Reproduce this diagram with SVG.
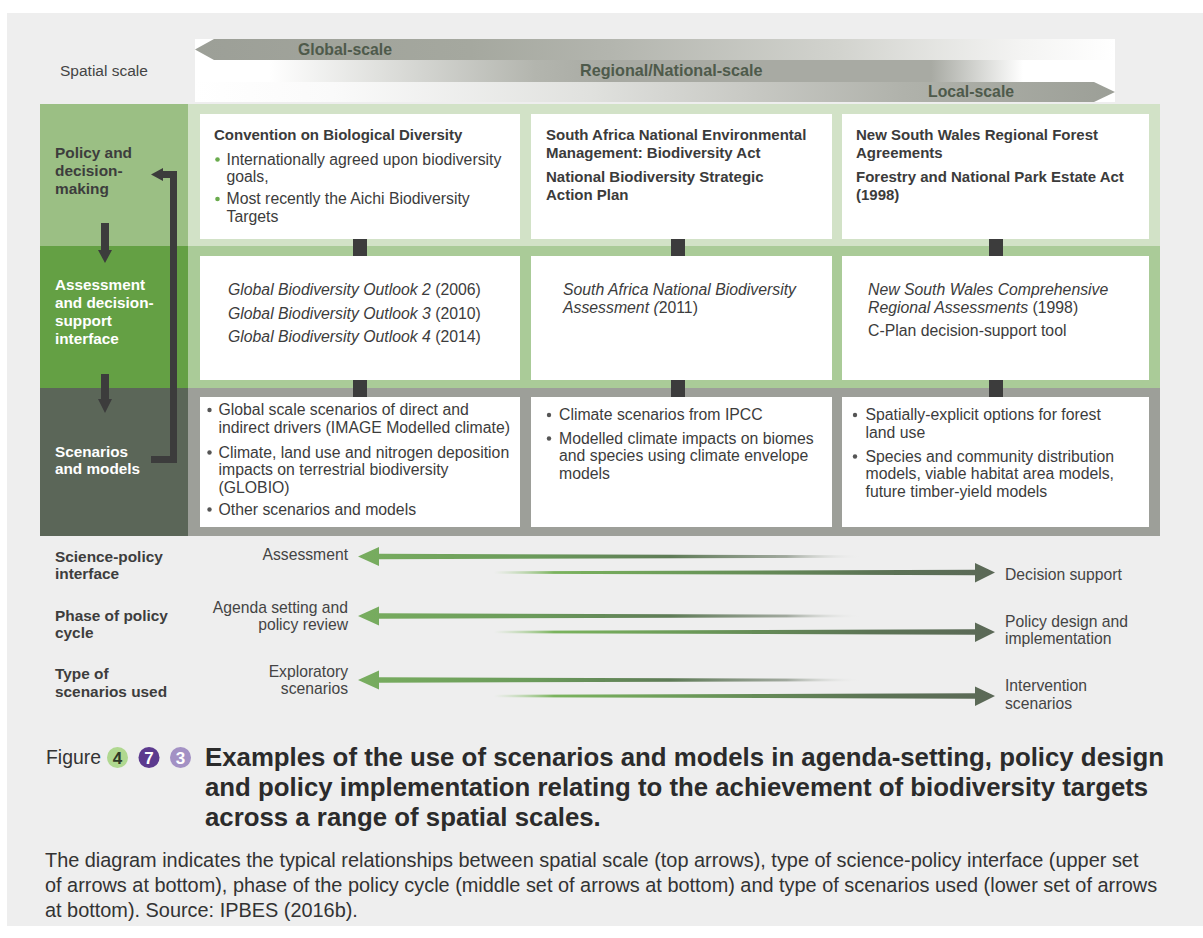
<svg xmlns="http://www.w3.org/2000/svg" width="1203" height="938" viewBox="0 0 1203 938">
<style>
text{font-family:'Liberation Sans',Arial,Helvetica,sans-serif}
.hd{font-size:15px;font-weight:bold;fill:#3b3b3b}
.bd{font-size:15.8px;fill:#3c3c3c}
.it{font-style:italic}
.lab{font-size:15.4px;font-weight:bold;fill:#3d3d3d}
.lw{font-size:15.3px;font-weight:bold;fill:#ffffff}
.sc{font-size:15.8px;font-weight:bold;fill:#4e5a4b}
.sm{font-size:15.7px;fill:#444444}
.box{fill:#ffffff}
.con{fill:#3c3c3c}
.gb{fill:#6aab4d}
.kb{fill:#555555}
.ttl{font-size:25.8px;font-weight:bold;fill:#2b2b2b}
.dsc{font-size:19.9px;fill:#333333}
.num{font-size:17px;font-weight:bold}
</style>
<defs>
<linearGradient id="gGlobal" gradientUnits="userSpaceOnUse" x1="195" y1="0" x2="1115" y2="0">
<stop offset="0" stop-color="#9c9f97"/><stop offset="0.3" stop-color="#a5a89f"/><stop offset="0.45" stop-color="#b3b5ae"/><stop offset="0.7" stop-color="#d2d3ce"/><stop offset="0.9" stop-color="#f4f4f3"/><stop offset="1" stop-color="#ffffff"/>
</linearGradient>
<linearGradient id="gReg" gradientUnits="userSpaceOnUse" x1="195" y1="0" x2="1115" y2="0">
<stop offset="0" stop-color="#ffffff"/><stop offset="0.08" stop-color="#ffffff"/><stop offset="0.37" stop-color="#b3b5ae"/><stop offset="0.45" stop-color="#a8aaa3"/><stop offset="0.8" stop-color="#a8aaa3"/><stop offset="0.9" stop-color="#ffffff"/><stop offset="1" stop-color="#ffffff"/>
</linearGradient>
<linearGradient id="gLocal" gradientUnits="userSpaceOnUse" x1="195" y1="0" x2="1115" y2="0">
<stop offset="0" stop-color="#ffffff"/><stop offset="0.15" stop-color="#fafafa"/><stop offset="0.43" stop-color="#e0e1de"/><stop offset="0.6" stop-color="#c8c9c4"/><stop offset="0.77" stop-color="#b0b2ab"/><stop offset="1" stop-color="#9c9f97"/>
</linearGradient>
<linearGradient id="gLeft" gradientUnits="userSpaceOnUse" x1="358" y1="0" x2="862" y2="0">
<stop offset="0" stop-color="#78ad5f"/><stop offset="0.35" stop-color="#6a9a5a"/><stop offset="0.62" stop-color="#5e7b56"/><stop offset="0.85" stop-color="#6d7a68" stop-opacity="0.6"/><stop offset="1" stop-color="#eeeeee" stop-opacity="0"/>
</linearGradient>
<linearGradient id="gRight" gradientUnits="userSpaceOnUse" x1="494" y1="0" x2="995" y2="0">
<stop offset="0" stop-color="#a6cf90" stop-opacity="0"/><stop offset="0.12" stop-color="#7ab35d"/><stop offset="0.4" stop-color="#6a9858"/><stop offset="0.75" stop-color="#5c7455"/><stop offset="1" stop-color="#5b6857"/>
</linearGradient>
</defs>

<rect x="0" y="0" width="1203" height="938" fill="#ffffff"/>
<rect x="7" y="13" width="1196" height="913" fill="#eeeeee"/>

<g id="spatial-scale">
<text class="sm" x="60" y="76" style="font-size:15.5px">Spatial scale</text>
<rect x="195" y="39" width="920" height="63" fill="#ffffff"/>
<polygon points="195,49.5 214,39 1115,39 1115,60 214,60" fill="url(#gGlobal)"/>
<rect x="195" y="60" width="920" height="22" fill="url(#gReg)"/>
<polygon points="195,82 1094,82 1115,92 1094,102 195,102" fill="url(#gLocal)"/>
<text class="sc" x="298" y="55">Global-scale</text>
<text class="sc" x="580" y="76" style="font-size:16.2px">Regional/National-scale</text>
<text class="sc" x="928" y="97">Local-scale</text>
</g>

<g id="row-backgrounds">
<rect x="188" y="104" width="972" height="142" fill="#d2e2c7"/>
<rect x="188" y="246" width="972" height="142" fill="#aacb98"/>
<rect x="188" y="388" width="972" height="148" fill="#9d9f99"/>
</g>

<g id="row-policy">
<rect x="40" y="104" width="148" height="142" fill="#9bbf84"/>
<text class="lab" x="55" y="158">Policy and</text>
<text class="lab" x="55" y="176">decision-</text>
<text class="lab" x="55" y="194">making</text>
</g>
<g id="row-assessment">
<rect x="40" y="246" width="148" height="142" fill="#64a044"/>
<text class="lw" x="55" y="290">Assessment</text>
<text class="lw" x="55" y="308">and decision-</text>
<text class="lw" x="55" y="326">support</text>
<text class="lw" x="55" y="344">interface</text>
</g>
<g id="row-scenarios">
<rect x="40" y="388" width="148" height="148" fill="#5b6658"/>
<text class="lw" x="55" y="457">Scenarios</text>
<text class="lw" x="55" y="474">and models</text>
</g>

<g id="box-policy-global">
<rect class="box" x="200" y="114" width="320" height="125"/>
<text class="hd" x="214" y="140">Convention on Biological Diversity</text>
<circle class="gb" cx="217.5" cy="159.5" r="2.3"/>
<text class="bd" x="226.5" y="164.5">Internationally agreed upon biodiversity</text>
<text class="bd" x="226.5" y="182">goals,</text>
<circle class="gb" cx="217.5" cy="199" r="2.3"/>
<text class="bd" x="226.5" y="204">Most recently the Aichi Biodiversity</text>
<text class="bd" x="226.5" y="221.5">Targets</text>
</g>
<g id="box-policy-national">
<rect class="box" x="531" y="114" width="301" height="125"/>
<text class="hd" x="546" y="140">South Africa National Environmental</text>
<text class="hd" x="546" y="158">Management: Biodiversity Act</text>
<text class="hd" x="546" y="182">National Biodiversity Strategic</text>
<text class="hd" x="546" y="200">Action Plan</text>
</g>
<g id="box-policy-local">
<rect class="box" x="842" y="114" width="307" height="125"/>
<text class="hd" x="856" y="140">New South Wales Regional Forest</text>
<text class="hd" x="856" y="158">Agreements</text>
<text class="hd" x="856" y="182">Forestry and National Park Estate Act</text>
<text class="hd" x="856" y="200">(1998)</text>
</g>

<g id="box-assessment-global">
<rect class="box" x="200" y="256" width="320" height="124"/>
<text class="bd" x="228" y="295"><tspan class="it">Global Biodiversity Outlook 2</tspan> (2006)</text>
<text class="bd" x="228" y="318.5"><tspan class="it">Global Biodiversity Outlook 3</tspan> (2010)</text>
<text class="bd" x="228" y="342"><tspan class="it">Global Biodiversity Outlook 4</tspan> (2014)</text>
</g>
<g id="box-assessment-national">
<rect class="box" x="531" y="256" width="301" height="124"/>
<text class="bd it" x="563" y="295">South Africa National Biodiversity</text>
<text class="bd" x="563" y="313"><tspan class="it">Assessment (</tspan>2011)</text>
</g>
<g id="box-assessment-local">
<rect class="box" x="842" y="256" width="307" height="124"/>
<text class="bd it" x="868" y="295">New South Wales Comprehensive</text>
<text class="bd" x="868" y="313"><tspan class="it">Regional Assessments</tspan> (1998)</text>
<text class="bd" x="868" y="335.5">C-Plan decision-support tool</text>
</g>

<g id="box-scenarios-global">
<rect class="box" x="200" y="397" width="320" height="130"/>
<circle class="kb" cx="209.5" cy="410" r="2.2"/>
<text class="bd" x="218.5" y="415">Global scale scenarios of direct and</text>
<text class="bd" x="218.5" y="433">indirect drivers (IMAGE Modelled climate)</text>
<circle class="kb" cx="209.5" cy="452.5" r="2.2"/>
<text class="bd" x="218.5" y="457.5">Climate, land use and nitrogen deposition</text>
<text class="bd" x="218.5" y="475">impacts on terrestrial biodiversity</text>
<text class="bd" x="218.5" y="493">(GLOBIO)</text>
<circle class="kb" cx="209.5" cy="509.5" r="2.2"/>
<text class="bd" x="218.5" y="514.5">Other scenarios and models</text>
</g>
<g id="box-scenarios-national">
<rect class="box" x="531" y="397" width="301" height="130"/>
<circle class="kb" cx="549" cy="415" r="2.2"/>
<text class="bd" x="559" y="420">Climate scenarios from IPCC</text>
<circle class="kb" cx="549" cy="438.5" r="2.2"/>
<text class="bd" x="559" y="443.5">Modelled climate impacts on biomes</text>
<text class="bd" x="559" y="461">and species using climate envelope</text>
<text class="bd" x="559" y="478.5">models</text>
</g>
<g id="box-scenarios-local">
<rect class="box" x="842" y="397" width="307" height="130"/>
<circle class="kb" cx="855" cy="415" r="2.2"/>
<text class="bd" x="865.5" y="420">Spatially-explicit options for forest</text>
<text class="bd" x="865.5" y="437.5">land use</text>
<circle class="kb" cx="855" cy="456.5" r="2.2"/>
<text class="bd" x="865.5" y="461.5">Species and community distribution</text>
<text class="bd" x="865.5" y="479">models, viable habitat area models,</text>
<text class="bd" x="865.5" y="496.5">future timber-yield models</text>
</g>

<g id="connectors">
<rect class="con" x="353" y="239" width="14" height="17"/>
<rect class="con" x="671" y="239" width="14" height="17"/>
<rect class="con" x="989" y="239" width="14" height="17"/>
<rect class="con" x="353" y="380" width="14" height="17"/>
<rect class="con" x="671" y="380" width="14" height="17"/>
<rect class="con" x="989" y="380" width="14" height="17"/>
<polygon class="con" points="101,223 109,223 109,250 112,250 105,263 98,250 101,250"/>
<polygon class="con" points="101,374 109,374 109,399 112,399 105,413 98,399 101,399"/>
<polygon class="con" points="151,174.5 163,168 163,171 177,171 177,463 151,463 151,456 170,456 170,178 163,178 163,181"/>
<polygon points="358,556.5 379,547 379,553.8 862,555.3 862,557.7 379,559.2 379,566" fill="url(#gLeft)"/>
<polygon points="494,571.3 975,569.8 975,563 995,572.5 975,582.5 975,575.2 494,573.7" fill="url(#gRight)"/>
<polygon points="358,616 379,606.5 379,613.3 862,614.8 862,617.2 379,618.7 379,625.5" fill="url(#gLeft)"/>
<polygon points="494,630.8 975,629.3 975,622.5 995,632 975,642 975,634.7 494,633.2" fill="url(#gRight)"/>
<polygon points="358,680 379,670.5 379,677.3 862,678.8 862,681.2 379,682.7 379,689.5" fill="url(#gLeft)"/>
<polygon points="494,694.8 975,693.3 975,686.5 995,696 975,706 975,698.7 494,697.2" fill="url(#gRight)"/>
</g>

<g id="legend-rows">
<text class="lab" x="55" y="562">Science-policy</text>
<text class="lab" x="55" y="578.5">interface</text>
<text class="lab" x="55" y="621">Phase of policy</text>
<text class="lab" x="55" y="637.5">cycle</text>
<text class="lab" x="55" y="678.5">Type of</text>
<text class="lab" x="55" y="697">scenarios used</text>
<text class="sm" x="348" y="559.5" text-anchor="end">Assessment</text>
<text class="sm" x="348" y="613" text-anchor="end">Agenda setting and</text>
<text class="sm" x="348" y="629.5" text-anchor="end">policy review</text>
<text class="sm" x="348" y="677" text-anchor="end">Exploratory</text>
<text class="sm" x="348" y="693.5" text-anchor="end">scenarios</text>
<text class="sm" x="1005" y="579.5">Decision support</text>
<text class="sm" x="1005" y="627">Policy design and</text>
<text class="sm" x="1005" y="644">implementation</text>
<text class="sm" x="1005" y="691">Intervention</text>
<text class="sm" x="1005" y="708.5">scenarios</text>
</g>

<g id="caption">
<text x="46" y="764" style="font-size:19.4px;fill:#333333">Figure</text>
<circle cx="117.5" cy="757.5" r="10.5" fill="#b0d890"/>
<text class="num" x="117.5" y="763.5" text-anchor="middle" fill="#2f3a28">4</text>
<circle cx="149" cy="757.5" r="10.5" fill="#5c3a8e"/>
<text class="num" x="149" y="763.5" text-anchor="middle" fill="#ffffff">7</text>
<circle cx="180.5" cy="757.5" r="10.5" fill="#a391c4"/>
<text class="num" x="180.5" y="763.5" text-anchor="middle" fill="#ffffff">3</text>
<text class="ttl" x="205" y="766">Examples of the use of scenarios and models in agenda-setting, policy design</text>
<text class="ttl" x="205" y="796">and policy implementation relating to the achievement of biodiversity targets</text>
<text class="ttl" x="205" y="826">across a range of spatial scales.</text>
<text class="dsc" x="45" y="867">The diagram indicates the typical relationships between spatial scale (top arrows), type of science-policy interface (upper set</text>
<text class="dsc" x="45" y="892">of arrows at bottom), phase of the policy cycle (middle set of arrows at bottom) and type of scenarios used (lower set of arrows</text>
<text class="dsc" x="45" y="917">at bottom). Source: IPBES (2016b).</text>
</g>
</svg>
